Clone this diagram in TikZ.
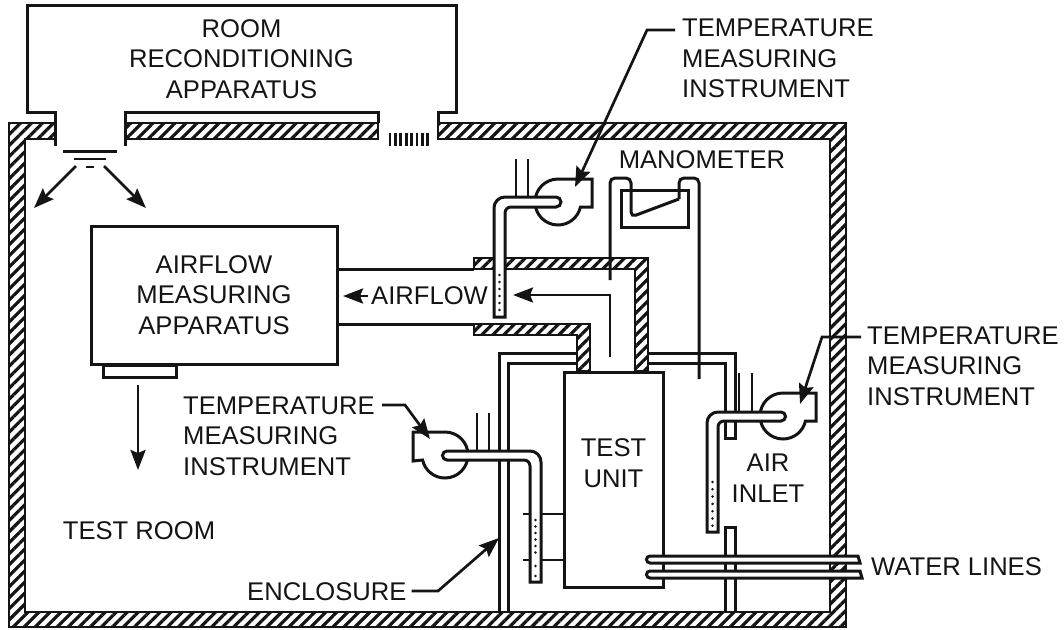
\documentclass[tikz,border=0pt]{standalone}
\usepackage{fontspec}
\setmainfont{Liberation Sans}
\usetikzlibrary{arrows.meta,patterns.meta}
\definecolor{ink}{HTML}{141414}
\tikzset{
  wall/.style={draw=ink,line width=2.9pt,pattern={Lines[angle=45,distance=7.8pt,line width=3.2pt]},pattern color=ink,line join=miter},
  pipe/.style={draw=ink,line width=3pt,line join=miter},
  thin pipe/.style={draw=ink,line width=2.7pt},
  tube/.style={draw=ink,line width=3pt,fill=white},
  leader/.style={draw=ink,line width=2.7pt,-{Stealth[length=20pt,width=15pt,inset=3pt]}},
  tag/.style={font=\fontsize{25.6}{30.5}\selectfont,text=ink,inner sep=0pt,align=center},
  sidetag/.style={tag,align=left,anchor=west},
}
\begin{document}
\begin{tikzpicture}[x=1pt,y=-1pt]
\useasboundingbox (0,0) rectangle (1064,629);
% walls of the room
\path[wall] (9,123) -- (55,123) -- (55,139) -- (25,139) -- (25,612) -- (830,612) -- (830,139) -- (438,139) -- (438,123) -- (846,123) -- (846,627) -- (9,627) -- cycle;
\path[wall] (125,123) rectangle (378,139);
% reconditioning apparatus
\draw[pipe] (55,146) -- (55,112) -- (27,112) -- (27,5) -- (456,5) -- (456,112) -- (438,112) -- (438,123);
\draw[pipe] (125,146) -- (125,112) -- (378,112) -- (378,123);
\foreach \gx in {390,395.4,...,428} \draw[thin pipe] (\gx,133) -- (\gx,146);
\draw[pipe] (63,151) -- (117,151);
\draw[thin pipe] (74,159) -- (106,159);
\draw[thin pipe] (86,167) -- (94,167);
\coordinate (diffl) at (76,166);
\coordinate (diffr) at (104,166);
\coordinate (roomw) at (34,208);
\coordinate (roome) at (146,208);
\draw[leader] (diffl) -- (roomw);
\draw[leader] (diffr) -- (roome);
\node[tag] (recon) at (241.5,59) {ROOM\\RECONDITIONING\\APPARATUS};
% airflow apparatus and duct
\node[pipe,minimum width=246pt,minimum height=138pt,inner sep=0pt,fill=white] (measure) at (214,295) {};
\node[tag] (measurelbl) at (214,295) {AIRFLOW\\MEASURING\\APPARATUS};
\node[pipe,minimum width=73pt,minimum height=12pt,inner sep=0pt,anchor=north west] (outlet) at (102,364) {};
\coordinate (down) at (138,385);
\coordinate (downend) at (138,470);
\draw[leader] (down) -- (downend);
\draw[pipe] (337,269) -- (474,269);
\draw[pipe] (337,324) -- (474,324);
\path[wall] (474,258) -- (648,258) -- (648,371) -- (635,371) -- (635,269) -- (474,269) -- cycle;
\path[wall] (474,324) -- (590,324) -- (590,371) -- (577,371) -- (577,335) -- (474,335) -- cycle;
\node[tag,anchor=west] (airflow) at (371,296) {AIRFLOW};
\coordinate (airtip) at (343,296);
\draw[leader,shorten <=3pt] (airflow.west) -- (airtip);
\coordinate (flowtip) at (513,295);
\draw[leader] (610,357) -- (610,295) -- (flowtip);
% enclosure
\draw[pipe] (499,612) -- (499,353) -- (577,353);
\draw[pipe] (508,612) -- (508,363) -- (577,363);
\draw[pipe] (648,353) -- (735,353) -- (735,438) -- (725,438) -- (725,363) -- (648,363);
\draw[pipe] (725,612) -- (725,527) -- (735,527) -- (735,612);
\node[pipe,minimum width=99pt,minimum height=215pt,inner sep=0pt,anchor=north west,fill=white] (unit) at (563,371) {};
\node[tag] (unitlbl) at (613.5,463) {TEST\\UNIT};
\draw[thin pipe] (523,514) -- (563,514);
\draw[thin pipe] (523,560) -- (563,560);
% manometer
\draw[pipe,rounded corners=5pt] (610,280) -- (610,178) -- (631,178) -- (631,217) -- (679,199);
\draw[pipe,rounded corners=5pt] (679,199) -- (679,178) -- (699,178) -- (699,379);
\draw[pipe] (621,190) rectangle (688,227);
\node[tag] (mano) at (702,160) {MANOMETER};
% upper instrument
\draw[thin pipe] (516,159) -- (516,197);
\draw[thin pipe] (528,159) -- (528,197);
\draw[pipe] (558,179) arc[start angle=90,end angle=347.4,radius=23pt] -- (592,207) -- (592,179) -- cycle;
\draw[tube] (556,197) [rounded corners=11pt] -- (494,197) [sharp corners] -- (494,317) -- (505,317) [rounded corners=6pt] -- (505,207) [sharp corners] -- (556,207) arc[start angle=-90,end angle=90,radius=5pt] -- cycle;
\foreach \dy in {275,282,...,310} \fill[ink] (499.5,\dy) circle[radius=1.4pt];
% lower instrument
\draw[thin pipe] (477,413) -- (477,451);
\draw[thin pipe] (489,413) -- (489,451);
\draw[pipe] (445,432) arc[start angle=90,end angle=-167.4,radius=23pt] -- (413,461) -- (413,432) -- cycle;
\draw[tube] (447,451) [rounded corners=11pt] -- (541,451) [sharp corners] -- (541,582) -- (530,582) [rounded corners=6pt] -- (530,460) [sharp corners] -- (447,460) arc[start angle=270,end angle=90,radius=4.5pt] -- cycle;
\foreach \dy in {520,526.5,...,555,566,576} \fill[ink] (535.5,\dy) circle[radius=1.4pt];
% inlet instrument
\draw[thin pipe] (739,373) -- (739,412);
\draw[thin pipe] (752,373) -- (752,412);
\draw[pipe] (783,393) arc[start angle=90,end angle=347.4,radius=23pt] -- (816,421) -- (816,393) -- cycle;
\draw[tube] (781,412) [rounded corners=11pt] -- (707,412) [sharp corners] -- (707,532) -- (718,532) [rounded corners=6pt] -- (718,421) [sharp corners] -- (781,421) arc[start angle=-90,end angle=90,radius=4.5pt] -- cycle;
\foreach \dy in {482,489.3,...,527} \fill[ink] (712.5,\dy) circle[radius=1.4pt];
\node[tag] (inlet) at (768,478) {AIR\\INLET};
% water lines
\draw[tube] (650,563) arc[start angle=270,end angle=90,radius=3.5pt] -- (858,556) -- (860,563) -- cycle;
\draw[tube] (650,578) arc[start angle=270,end angle=90,radius=3.5pt] -- (860,571) -- (862,578) -- cycle;
\node[sidetag] (water) at (871,567) {WATER LINES};
% labels with leaders
\node[sidetag] (tempa) at (682,58.5) {TEMPERATURE\\MEASURING\\INSTRUMENT};
\node[sidetag] (tempb) at (867,366) {TEMPERATURE\\MEASURING\\INSTRUMENT};
\node[sidetag] (tempc) at (183,436) {TEMPERATURE\\MEASURING\\INSTRUMENT};
\node[tag] (room) at (139,531) {TEST ROOM};
\node[tag,anchor=west] (encl) at (247,592) {ENCLOSURE};
\coordinate (tempafan) at (575,187);
\coordinate (tempbfan) at (800,404);
\coordinate (tempcfan) at (430,439);
\coordinate (enclwall) at (499,538);
\draw[leader] (675,30) -- (647,30) -- (tempafan);
\draw[leader] (861,337) -- (822,337) -- (tempbfan);
\draw[leader] (382,405) -- (405,405) -- (tempcfan);
\draw[leader] (encl.east) ++(5,-1) -- (438,591) -- (enclwall);
\end{tikzpicture}
\end{document}
